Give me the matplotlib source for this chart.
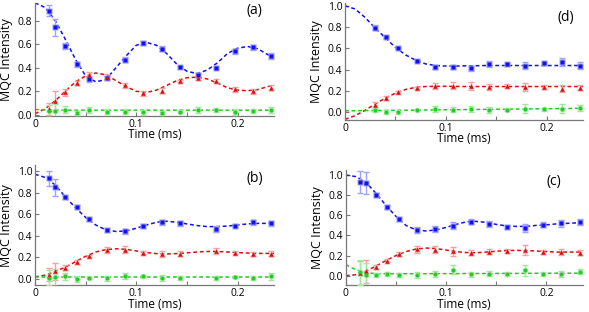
import matplotlib
matplotlib.use('Agg')
import matplotlib.pyplot as plt

plt.rcParams['font.family'] = ['Open Sans', 'DejaVu Sans']
plt.rcParams['font.size'] = 7

# measurement times (ms)
t_full = [0.014, 0.020, 0.030, 0.041, 0.053, 0.071, 0.089, 0.107, 0.125,
          0.143, 0.161, 0.179, 0.197, 0.215, 0.233]
t_b = [0.014, 0.020, 0.030, 0.041, 0.053, 0.071, 0.089, 0.107, 0.125,
       0.143, 0.179, 0.197, 0.215, 0.233]
t_d = [0.030, 0.041, 0.053, 0.071, 0.089, 0.107, 0.125, 0.143, 0.161,
       0.179, 0.197, 0.215, 0.233]
# times of the fitted curves
t_fit = [0, 0.01, 0.02, 0.03, 0.04, 0.05, 0.06, 0.07, 0.08, 0.09, 0.10, 0.11,
         0.12, 0.13, 0.14, 0.15, 0.16, 0.17, 0.18, 0.19, 0.20, 0.21, 0.22,
         0.23, 0.236]

# panel (a)
a_blue = [0.884, 0.741, 0.582, 0.428, 0.302, 0.313, 0.467, 0.61, 0.562,
          0.408, 0.336, 0.40, 0.54, 0.573, 0.498]
a_blue_err = [0.05, 0.07, 0.025, 0.02, 0.02, 0.02, 0.02, 0.02, 0.02, 0.01,
              0.02, 0.015, 0.02, 0.02, 0.025]
a_red = [0.05, 0.12, 0.19, 0.27, 0.336, 0.325, 0.252, 0.182, 0.204, 0.285,
         0.313, 0.29, 0.218, 0.20, 0.232]
a_red_err = [0.05, 0.08, 0.03, 0.02, 0.03, 0.02, 0.02, 0.02, 0.02, 0.01,
             0.02, 0.01, 0.02, 0.02, 0.025]
a_green = [0.036, 0.036, 0.045, 0.017, 0.042, 0.028, 0.028, 0.022, 0.017,
           0.028, 0.042, 0.042, 0.028, 0.034, 0.042]
a_green_err = [0.05, 0.06, 0.03, 0.02, 0.025, 0.02, 0.02, 0.02, 0.02, 0.01,
               0.025, 0.015, 0.025, 0.02, 0.025]
a_blue_fit = [0.95, 0.91, 0.80, 0.64, 0.47, 0.33, 0.28, 0.30, 0.40, 0.50,
              0.59, 0.615, 0.59, 0.52, 0.43, 0.37, 0.35, 0.38, 0.44, 0.52,
              0.565, 0.58, 0.56, 0.51, 0.49]
a_red_fit = [0.01, 0.05, 0.12, 0.20, 0.28, 0.33, 0.355, 0.34, 0.29, 0.24,
             0.20, 0.19, 0.21, 0.25, 0.29, 0.315, 0.32, 0.305, 0.27, 0.23,
             0.21, 0.205, 0.215, 0.24, 0.255]
a_green_fit = [0.046, 0.043, 0.041, 0.04, 0.04, 0.04, 0.04, 0.04, 0.04, 0.04,
               0.04, 0.04, 0.04, 0.04, 0.04, 0.04, 0.04, 0.04, 0.04, 0.04,
               0.04, 0.04, 0.04, 0.04, 0.04]

# panel (b)
b_blue = [0.933, 0.848, 0.758, 0.667, 0.555, 0.455, 0.442, 0.491, 0.524,
          0.515, 0.464, 0.494, 0.524, 0.515]
b_blue_err = [0.07, 0.08, 0.02, 0.02, 0.015, 0.02, 0.025, 0.015, 0.025,
              0.02, 0.025, 0.015, 0.02, 0.025]
b_red = [0.04, 0.07, 0.106, 0.16, 0.212, 0.267, 0.273, 0.245, 0.23, 0.236,
         0.258, 0.245, 0.23, 0.236]
b_red_err = [0.06, 0.08, 0.025, 0.02, 0.01, 0.025, 0.03, 0.015, 0.025, 0.02,
             0.025, 0.015, 0.02, 0.025]
b_green = [0.01, 0.015, 0.024, 0.0, 0.012, 0.006, 0.027, 0.024, 0.01,
           0.012, 0.012, 0.015, 0.012, 0.024]
b_green_err = [0.07, 0.08, 0.03, 0.025, 0.01, 0.025, 0.03, 0.015, 0.025,
               0.02, 0.02, 0.01, 0.02, 0.03]
b_blue_fit = [0.97, 0.94, 0.87, 0.76, 0.66, 0.57, 0.50, 0.455, 0.44, 0.445,
              0.47, 0.50, 0.525, 0.535, 0.525, 0.51, 0.495, 0.485, 0.485,
              0.49, 0.50, 0.51, 0.515, 0.515, 0.515]
b_red_fit = [0.02, 0.035, 0.07, 0.11, 0.16, 0.21, 0.25, 0.272, 0.28, 0.275,
             0.26, 0.245, 0.235, 0.232, 0.235, 0.242, 0.25, 0.255, 0.255,
             0.25, 0.245, 0.24, 0.237, 0.237, 0.237]
b_green_fit = [0.02] * 25

# panel (c)
c_blue = [0.935, 0.925, 0.80, 0.68, 0.568, 0.455, 0.461, 0.497, 0.536,
          0.513, 0.487, 0.474, 0.506, 0.519, 0.529]
c_blue_err = [0.11, 0.11, 0.02, 0.02, 0.02, 0.03, 0.03, 0.035, 0.025, 0.03,
              0.02, 0.04, 0.025, 0.03, 0.03]
c_red = [0.026, 0.042, 0.091, 0.149, 0.211, 0.263, 0.26, 0.243, 0.23,
         0.237, 0.25, 0.253, 0.24, 0.234, 0.23]
c_red_err = [0.12, 0.11, 0.02, 0.015, 0.02, 0.035, 0.035, 0.045, 0.025,
             0.025, 0.02, 0.05, 0.02, 0.03, 0.025]
c_green = [0.032, 0.01, 0.01, 0.02, 0.006, 0.006, 0.02, 0.058, 0.013, 0.02,
           0.013, 0.052, 0.013, 0.02, 0.039]
c_green_err = [0.12, 0.12, 0.02, 0.02, 0.02, 0.03, 0.03, 0.045, 0.025,
               0.025, 0.02, 0.05, 0.02, 0.03, 0.025]
c_blue_fit = [1.0, 0.985, 0.93, 0.82, 0.70, 0.59, 0.50, 0.455, 0.445, 0.455,
              0.48, 0.51, 0.535, 0.54, 0.53, 0.51, 0.495, 0.49, 0.49, 0.50,
              0.505, 0.515, 0.52, 0.525, 0.527]
c_red_fit = [0.0, 0.01, 0.045, 0.095, 0.15, 0.20, 0.24, 0.265, 0.275, 0.27,
             0.255, 0.24, 0.23, 0.228, 0.235, 0.243, 0.25, 0.252, 0.25,
             0.245, 0.24, 0.235, 0.235, 0.235, 0.235]
c_green_fit = [0.11, 0.06, 0.03, 0.02, 0.02, 0.02, 0.02, 0.02, 0.02, 0.021,
               0.021, 0.021, 0.022, 0.022, 0.022, 0.023, 0.023, 0.023, 0.024,
               0.024, 0.024, 0.025, 0.025, 0.025, 0.025]

# panel (d)
d_blue = [0.796, 0.706, 0.604, 0.486, 0.427, 0.427, 0.415, 0.455, 0.452,
          0.44, 0.46, 0.474, 0.44]
d_blue_err = [0.02, 0.015, 0.01, 0.01, 0.02, 0.02, 0.025, 0.03, 0.015,
              0.035, 0.015, 0.04, 0.03]
d_red = [0.074, 0.136, 0.189, 0.232, 0.248, 0.251, 0.248, 0.241, 0.245,
         0.238, 0.238, 0.223, 0.232]
d_red_err = [0.025, 0.02, 0.01, 0.01, 0.03, 0.03, 0.035, 0.03, 0.02, 0.04,
             0.02, 0.03, 0.025]
d_green = [0.022, 0.006, 0.0, 0.019, 0.031, 0.025, 0.031, 0.025, 0.025,
           0.037, 0.031, 0.037, 0.043]
d_green_err = [0.02, 0.02, 0.01, 0.01, 0.025, 0.025, 0.03, 0.03, 0.015,
               0.045, 0.015, 0.04, 0.03]
d_blue_fit = [1.0, 0.97, 0.89, 0.79, 0.70, 0.61, 0.54, 0.49, 0.455, 0.44,
              0.435, 0.435, 0.437, 0.438, 0.44, 0.44, 0.44, 0.44, 0.44, 0.44,
              0.44, 0.44, 0.44, 0.44, 0.44]
d_red_fit = [-0.065, -0.03, 0.02, 0.08, 0.135, 0.18, 0.215, 0.235, 0.243,
             0.245, 0.245, 0.244, 0.243, 0.243, 0.243, 0.243, 0.243, 0.243,
             0.243, 0.243, 0.243, 0.243, 0.243, 0.243, 0.243]
d_green_fit = [0.015, 0.016, 0.017, 0.018, 0.019, 0.02, 0.021, 0.022, 0.023,
               0.024, 0.025, 0.026, 0.027, 0.028, 0.029, 0.030, 0.031, 0.032,
               0.033, 0.034, 0.035, 0.036, 0.037, 0.038, 0.039]

BLUE, BLUE_L = '#1010f0', '#a0a0ff'
RED, RED_L = '#d81010', '#f2a0a0'
GREEN, GREEN_L = '#22cc22', '#a0e8a0'


def draw_series(ax, t, y, err, fit, col, col_l, marker, ms):
    ax.plot(t_fit, fit, ls=(0, (2.5, 1.8)), color=col, lw=1.1, zorder=2)
    ax.errorbar(t, y, yerr=err, fmt='none', ecolor=col_l, elinewidth=1.0,
                capsize=2.5, capthick=1.0, zorder=3)
    ax.plot(t, y, ls='none', marker=marker, ms=ms + 1.2, color=col_l,
            mec='none', zorder=3)
    ax.plot(t, y, ls='none', marker=marker, ms=ms, color=col, mec='none',
            zorder=4)


def panel(rect, label, lbl_xy, ylim, yticks, series):
    ax = fig.add_axes(rect)
    for s in series:
        draw_series(ax, *s)
    ax.set_xlim(0, 0.236)
    ax.set_ylim(*ylim)
    ax.set_xticks([0, 0.05, 0.1, 0.15, 0.2])
    ax.set_xticklabels(['0', '', '0.1', '', '0.2'])
    ax.set_yticks(yticks)
    ax.set_yticklabels([f'{v:.1f}' for v in yticks])
    for side in ['top', 'right']:
        ax.spines[side].set_visible(False)
    for side in ['left', 'bottom']:
        ax.spines[side].set_color('#777777')
        ax.spines[side].set_linewidth(0.9)
    ax.tick_params(direction='in', length=3, width=0.8, color='#777777',
                   pad=2, labelsize=7.5)
    ax.set_xlabel('Time (ms)', fontsize=8.5, labelpad=-1)
    ax.set_ylabel('MQC Intensity', fontsize=9, labelpad=3)
    ax.text(lbl_xy[0], lbl_xy[1], label, transform=ax.transAxes,
            fontsize=10, ha='center', va='center')
    return ax


fig = plt.figure(figsize=[5.89, 3.12], dpi=100)

panel([0.0594, 0.628, 0.4058, 0.363], '(a)', (0.92, 0.93), (-0.01, 0.95),
      [0, 0.2, 0.4, 0.6, 0.8],
      [(t_full, a_blue, a_blue_err, a_blue_fit, BLUE, BLUE_L, 's', 3.2),
       (t_full, a_red, a_red_err, a_red_fit, RED, RED_L, '^', 3.2),
       (t_full, a_green, a_green_err, a_green_fit, GREEN, GREEN_L, 'o', 2.8)])

panel([0.0594, 0.085, 0.4058, 0.386], '(b)', (0.92, 0.89), (-0.06, 1.055),
      [0, 0.2, 0.4, 0.6, 0.8, 1.0],
      [(t_b, b_blue, b_blue_err, b_blue_fit, BLUE, BLUE_L, 's', 3.2),
       (t_b, b_red, b_red_err, b_red_fit, RED, RED_L, '^', 3.2),
       (t_b, b_green, b_green_err, b_green_fit, GREEN, GREEN_L, 'o', 2.8)])

panel([0.587, 0.085, 0.402, 0.370], '(c)', (0.88, 0.9), (-0.097, 1.05),
      [0, 0.2, 0.4, 0.6, 0.8, 1.0],
      [(t_full, c_blue, c_blue_err, c_blue_fit, BLUE, BLUE_L, 's', 3.2),
       (t_full, c_red, c_red_err, c_red_fit, RED, RED_L, '^', 3.2),
       (t_full, c_green, c_green_err, c_green_fit, GREEN, GREEN_L, 'o', 2.8)])

panel([0.5857, 0.616, 0.404, 0.374], '(d)', (0.93, 0.88), (-0.069, 1.025),
      [0, 0.2, 0.4, 0.6, 0.8, 1.0],
      [(t_d, d_blue, d_blue_err, d_blue_fit, BLUE, BLUE_L, 's', 3.2),
       (t_d, d_red, d_red_err, d_red_fit, RED, RED_L, '^', 3.2),
       (t_d, d_green, d_green_err, d_green_fit, GREEN, GREEN_L, 'o', 2.8)])

fig.savefig('out.png', dpi=100)
